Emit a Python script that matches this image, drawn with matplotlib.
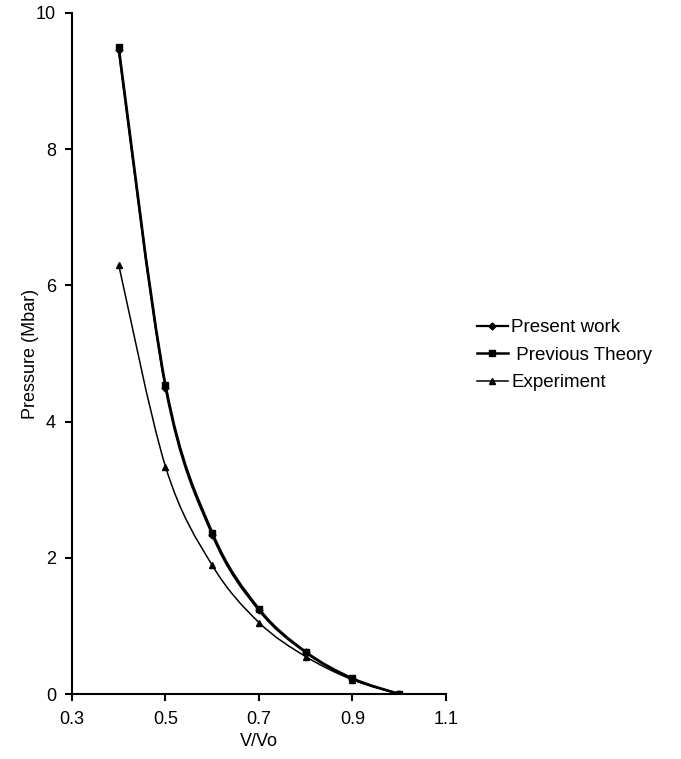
import matplotlib
matplotlib.use("Agg")
import matplotlib.pyplot as plt
import numpy as np
from matplotlib.path import Path
from matplotlib.patches import PathPatch
from matplotlib.lines import Line2D

plt.rcParams['font.family'] = ['Liberation Sans', 'DejaVu Sans']

# relative volume and pressure (Mbar)
v_ratio = [0.4, 0.5, 0.6, 0.7, 0.8, 0.9, 1.0]
p_present = [9.45, 4.50, 2.34, 1.23, 0.61, 0.22, 0.0]
p_previous = [9.50, 4.54, 2.37, 1.25, 0.62, 0.23, 0.0]
p_experiment = [6.30, 3.34, 1.89, 1.05, 0.55, 0.21, 0.0]

x_ticks = [0.3, 0.5, 0.7, 0.9, 1.1]
y_ticks = [0, 2, 4, 6, 8, 10]


def smooth_path(x, y):
    # Bezier curve through the points, tangents as in a Catmull-Rom spline
    pts = np.column_stack([x, y]).astype(float)
    n = len(pts)
    verts = [pts[0]]
    codes = [Path.MOVETO]
    for i in range(n - 1):
        p0 = pts[i - 1] if i > 0 else pts[i]
        p1 = pts[i]
        p2 = pts[i + 1]
        p3 = pts[i + 2] if i + 2 < n else pts[i + 1]
        c1 = p1 + (p2 - p0) / 6.0
        c2 = p2 - (p3 - p1) / 6.0
        verts += [c1, c2, p2]
        codes += [Path.CURVE4] * 3
    return Path(verts, codes)


fig = plt.figure(figsize=(6.81, 7.59), dpi=100)
ax = fig.add_axes([0.1057, 0.0856, 0.5492, 0.8973])

series = [
    (p_present, 'D', 3.5, 1.6, 'Present work'),
    (p_previous, 's', 5, 1.8, ' Previous Theory'),
    (p_experiment, '^', 4.5, 1.1, 'Experiment'),
]

handles = []
for p, mk, ms, lw, label in series:
    ax.add_patch(PathPatch(smooth_path(v_ratio, p), facecolor='none',
                           edgecolor='black', lw=lw))
    ax.plot(v_ratio, p, linestyle='none', marker=mk, ms=ms, color='black')
    handles.append(Line2D([], [], color='black', lw=lw, marker=mk, ms=ms,
                          label=label))

ax.set_xlim(0.3, 1.1)
ax.set_ylim(0, 10)
ax.set_xticks(x_ticks)
ax.set_xticklabels(['0.3', '0.5', '0.7', '0.9', '1.1'])
ax.set_yticks(y_ticks)

for s in ['top', 'right']:
    ax.spines[s].set_visible(False)
for s in ['left', 'bottom']:
    ax.spines[s].set_linewidth(1.5)
ax.tick_params(direction='out', length=5, width=1.5, labelsize=13)
ax.tick_params(axis='x', pad=7.5)
ax.tick_params(axis='y', pad=6.5)

ax.set_xlabel('V/Vo', fontsize=13, labelpad=3.5)
ax.set_ylabel('Pressure (Mbar)', fontsize=13, labelpad=-2)

fig.legend(handles=handles, loc='center left', bbox_to_anchor=(0.700, 0.532),
           frameon=False, fontsize=13.5, handlelength=1.65, numpoints=1,
           handletextpad=0.2, labelspacing=0.55, borderpad=0,
           borderaxespad=0)

fig.savefig('out.png', dpi=100)
